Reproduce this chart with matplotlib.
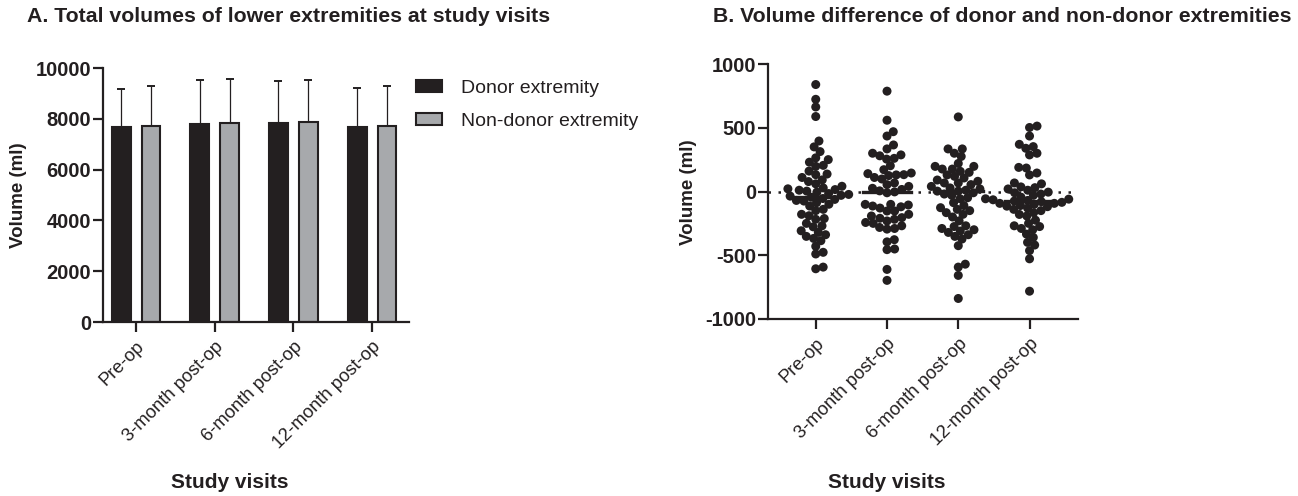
import numpy as np
import matplotlib
matplotlib.use("Agg")
from matplotlib import pyplot as plt
from matplotlib.patches import Patch

plt.rcParams['font.family'] = ['Liberation Sans', 'DejaVu Sans']
plt.rcParams['axes.unicode_minus'] = False

visits = ["Pre-op", "3-month post-op", "6-month post-op", "12-month post-op"]

# Panel A: mean volume and SD (ml)
donor_mean = [7680, 7810, 7820, 7680]
donor_sd = [1480, 1700, 1670, 1530]
nondonor_mean = [7720, 7840, 7870, 7720]
nondonor_sd = [1570, 1720, 1670, 1580]

# Panel B: difference donor - non-donor (ml)
diff_preop = [839, 723, 663, 588, 396, 350, 313, 264, 250, 230, 205, 197, 160, 137,
              132, 110, 91, 78, 60, 41, 28, 21, 15, 10, 3, -5, -16, -23, -30, -36,
              -45, -55, -62, -70, -75, -88, -100, -114, -140, -150, -179, -190,
              -212, -218, -250, -269, -277, -308, -321, -339, -352, -368, -386,
              -430, -477, -490, -593, -606]
diff_3m = [787, 559, 469, 435, 365, 334, 300, 287, 280, 260, 254, 202, 171, 145,
           140, 132, 130, 125, 110, 98, 67, 54, 40, 25, 16, 5, -3, -10, -101,
           -101, -106, -114, -120, -130, -153, -153, -179, -192, -205, -210,
           -218, -231, -243, -250, -269, -282, -290, -295, -378, -395, -451,
           -456, -611, -697]
diff_6m = [585, 334, 334, 300, 275, 220, 197, 197, 176, 176, 158, 150, 130, 119,
           106, 90, 80, 67, 67, 54, 40, 28, 20, 10, 3, 3, -10, -20, -30, -49,
           -57, -88, -110, -127, -140, -150, -166, -179, -200, -230, -269, -275,
           -290, -300, -310, -321, -339, -352, -373, -425, -570, -593, -658, -839]
diff_12m = [513, 502, 435, 370, 352, 339, 300, 287, 189, 184, 145, 130, 67, 60,
            36, 30, 20, 10, -5, -10, -20, -30, -44, -57, -60, -65, -70, -75, -80,
            -85, -93, -93, -101, -110, -115, -119, -130, -140, -150, -166, -180,
            -192, -225, -250, -269, -275, -290, -300, -334, -360, -399, -420,
            -464, -528, -782]
medians = [-40, 0, 5, -75]

DARK = "#231f20"
GREY = "#a7a9ac"
W, H, DPI = 12.98, 4.96, 100


def swarm_offsets(values, ax, dia_px):
    # simple beeswarm: place points (sorted by value) at the smallest free offset
    fig = ax.figure
    bbox = ax.get_position()
    x0, x1 = ax.get_xlim()
    y0, y1 = ax.get_ylim()
    px_per_x = bbox.width * fig.get_figwidth() * DPI / (x1 - x0)
    px_per_y = bbox.height * fig.get_figheight() * DPI / (y1 - y0)
    ys = np.array(values, dtype=float) * px_per_y
    order = np.argsort(ys)
    placed = []
    offs = np.zeros(len(ys))
    for i in order:
        y = ys[i]
        near = [(px, py) for px, py in placed if abs(py - y) < dia_px]
        cands = [0.0]
        for px, py in near:
            dx = np.sqrt(dia_px ** 2 - (py - y) ** 2)
            cands += [px + dx, px - dx]
        cands.sort(key=abs)
        for c in cands:
            if all((c - px) ** 2 + (y - py) ** 2 >= dia_px ** 2 - 1e-6 for px, py in near):
                offs[i] = c
                break
        placed.append((offs[i], y))
    return offs / px_per_x


fig = plt.figure(figsize=(W, H), dpi=DPI)

# ---- Panel A ----
axA = fig.add_axes([103 / 1298, 1 - 322 / 496, 306 / 1298, 254 / 496])
x = np.arange(len(visits))
bw = 0.24
axA.bar(x - 0.19, donor_mean, bw, color=DARK, edgecolor=DARK, linewidth=1.5, zorder=2)
axA.bar(x + 0.19, nondonor_mean, bw, color=GREY, edgecolor=DARK, linewidth=1.5, zorder=2)
axA.errorbar(x - 0.19, donor_mean, yerr=[np.zeros(4), donor_sd], fmt='none',
             ecolor=DARK, elinewidth=0.9, capsize=3, capthick=1.4, zorder=1)
axA.errorbar(x + 0.19, nondonor_mean, yerr=[np.zeros(4), nondonor_sd], fmt='none',
             ecolor=DARK, elinewidth=0.9, capsize=3, capthick=1.4, zorder=1)
axA.set_xlim(-0.42, 3.47)
axA.set_ylim(0, 10000)
axA.set_yticks(range(0, 10001, 2000))

axA.legend(handles=[Patch(facecolor=DARK, edgecolor=DARK, linewidth=1.5, label="Donor extremity"),
                    Patch(facecolor=GREY, edgecolor=DARK, linewidth=1.5, label="Non-donor extremity")],
           loc='upper left', bbox_to_anchor=(416 / 1298, 1 - 80 / 496),
           bbox_transform=fig.transFigure, frameon=False, fontsize=14,
           handlelength=1.35, handleheight=0.55, handletextpad=0.95, labelspacing=0.8,
           borderaxespad=0, borderpad=0, labelcolor=DARK)

# ---- Panel B ----
axB = fig.add_axes([768 / 1298, 1 - 319 / 496, 310 / 1298, 255 / 496])
axB.set_xlim(-0.67, 3.68)
axB.set_ylim(-1000, 1000)
axB.set_yticks([-1000, -500, 0, 500, 1000])
axB.axhline(0, color=DARK, linestyle=(0, (1, 3)), linewidth=1.8, zorder=1)
for i, vals in enumerate([diff_preop, diff_3m, diff_6m, diff_12m]):
    offs = swarm_offsets(vals, axB, 7.6)
    axB.scatter(i + offs, vals, s=42, color=DARK, edgecolors='none', zorder=3)
    axB.plot([i - 0.34, i + 0.34], [medians[i], medians[i]], color=DARK, linewidth=2.4, zorder=2)

for ax in (axA, axB):
    for s in ('top', 'right'):
        ax.spines[s].set_visible(False)
    for s in ('left', 'bottom'):
        ax.spines[s].set_linewidth(1.6)
        ax.spines[s].set_color(DARK)
    ax.set_xticks(x)
    ax.set_xticklabels(visits, rotation=45, ha='right', rotation_mode='anchor',
                       fontsize=13.2, color=DARK)
    ax.tick_params(axis='both', length=7.5, width=1.6, color=DARK)
    ax.tick_params(axis='y', labelsize=14.5, labelcolor=DARK, pad=1)
    ax.tick_params(axis='x', pad=4)
    for lbl in ax.get_yticklabels():
        lbl.set_fontweight('bold')

fig.text(19 / 1298, 1 - 195 / 496, "Volume (ml)", rotation=90, ha='center', va='center',
         fontsize=13.5, fontweight='bold', color=DARK)
fig.text(689 / 1298, 1 - 192 / 496, "Volume (ml)", rotation=90, ha='center', va='center',
         fontsize=13.5, fontweight='bold', color=DARK)
fig.text(230 / 1298, 1 - 482 / 496, "Study visits", ha='center', va='center',
         fontsize=15, fontweight='bold', color=DARK)
fig.text(887 / 1298, 1 - 482 / 496, "Study visits", ha='center', va='center',
         fontsize=15, fontweight='bold', color=DARK)
fig.text(27 / 1298, 1 - 17 / 496, "A. Total volumes of lower extremities at study visits",
         ha='left', va='center', fontsize=15.3, fontweight='bold', color=DARK)
fig.text(713 / 1298, 1 - 17 / 496, "B. Volume difference of donor and non-donor extremities",
         ha='left', va='center', fontsize=15.3, fontweight='bold', color=DARK)

fig.savefig("out.png", dpi=DPI)
